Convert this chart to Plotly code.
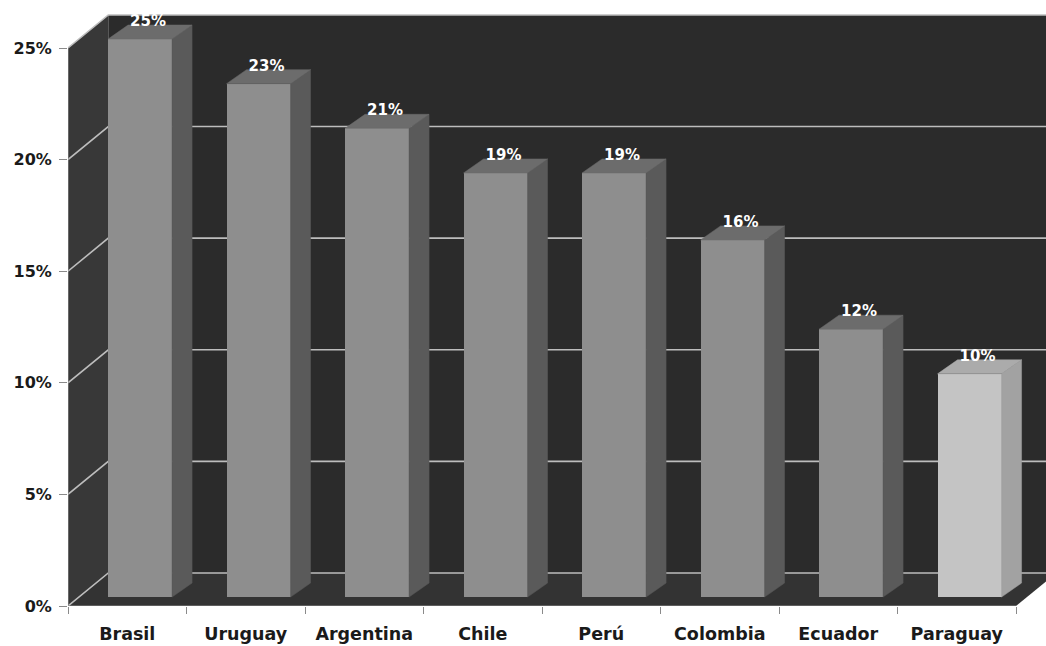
import plotly.graph_objects as go

countries = ["Brasil", "Uruguay", "Argentina", "Chile", "Perú", "Colombia", "Ecuador", "Paraguay"]
values = [25, 23, 21, 19, 19, 16, 12, 10]
y_ticks = [0, 5, 10, 15, 20, 25]
y_tick_text = ["0%", "5%", "10%", "15%", "20%", "25%"]

# --- 3D styling parameters (positions in axis units) ---
WALL_DX, WALL_DY = 0.34, 1.48       # depth of the chart walls
BAR_BASE = 0.4                      # front face of bars sits slightly behind front edge
BAR_OFF, BAR_W = -0.162, 0.54       # bar front face placement within a band
BAR_DX, BAR_DY = 0.169, 0.63        # bar depth
n = len(countries)
x_idx = list(range(n))
x_min, x_max = -0.5, n - 0.5
x_end = x_min + 978 / 118.5
y_top = max(y_ticks)

front_cols = ["#8e8e8e"] * (n - 1) + ["#c4c4c4"]
side_cols = ["#5a5a5a"] * (n - 1) + ["#a2a2a2"]
top_cols = ["#6c6c6c"] * (n - 1) + ["#ababab"]
wall_back = "#2b2b2b"
wall_left = "#383838"
floor_col = "#333333"
grid_col = "#bdbdbd"
FONT = "DejaVu Sans"

fig = go.Figure()
shapes = []

def path(xs, ys):
    return "M " + " L ".join(f"{x},{y}" for x, y in zip(xs, ys)) + " Z"

# back wall, left wall, floor (drawn below the bars)
shapes.append(dict(type="path", xref="x", yref="y", layer="below", line=dict(width=0),
                   fillcolor=wall_back,
                   path=path([x_min + WALL_DX, x_end, x_end, x_min + WALL_DX],
                             [WALL_DY, WALL_DY, y_top + WALL_DY, y_top + WALL_DY])))
shapes.append(dict(type="path", xref="x", yref="y", layer="below", line=dict(width=0),
                   fillcolor=wall_left,
                   path=path([x_min, x_min + WALL_DX, x_min + WALL_DX, x_min],
                             [0, WALL_DY, y_top + WALL_DY, y_top])))
shapes.append(dict(type="path", xref="x", yref="y", layer="below", line=dict(width=0),
                   fillcolor=floor_col,
                   path=path([x_min, x_max, x_end, x_end, x_min + WALL_DX],
                             [0, 0, WALL_DY * (x_end - x_max) / WALL_DX, WALL_DY, WALL_DY])))
# gridlines
for t in y_ticks:
    shapes.append(dict(type="path", xref="x", yref="y", layer="below",
                       line=dict(color=grid_col, width=1.6),
                       path=f"M {x_min},{t} L {x_min + WALL_DX},{t + WALL_DY} L {x_end},{t + WALL_DY}"))

# bar front faces
fig.add_trace(go.Bar(x=x_idx, y=values, base=BAR_BASE, offset=BAR_OFF, width=BAR_W,
                     marker=dict(color=front_cols, line=dict(width=0)),
                     hoverinfo="skip", showlegend=False))

def poly(xs, ys, color):
    fig.add_trace(go.Scatter(x=xs, y=ys, mode="lines", fill="toself", fillcolor=color,
                             line=dict(width=0.5, color=color),
                             hoverinfo="skip", showlegend=False))

# bar side and top faces
for i, v in enumerate(values):
    xl = i + BAR_OFF
    xr = xl + BAR_W
    yt = v + BAR_BASE
    poly([xr, xr + BAR_DX, xr + BAR_DX, xr, xr],
         [BAR_BASE, BAR_BASE + BAR_DY, yt + BAR_DY, yt, BAR_BASE], side_cols[i])
    poly([xl, xr, xr + BAR_DX, xl + BAR_DX, xl],
         [yt, yt, yt + BAR_DY, yt + BAR_DY, yt], top_cols[i])

# value labels
fig.add_trace(go.Scatter(x=[i + 0.175 for i in x_idx], y=[v + 1.15 for v in values],
                         mode="text", text=[f"{v}%" for v in values],
                         textfont=dict(color="white", size=15, family=FONT, weight="bold"),
                         cliponaxis=False, hoverinfo="skip", showlegend=False))

# front axis lines
fig.add_trace(go.Scatter(x=[x_min, x_max, None, x_min, x_min], y=[0, 0, None, 0, y_top],
                         mode="lines", line=dict(color="#8a8a8a", width=1.2),
                         cliponaxis=False, hoverinfo="skip", showlegend=False))

fig.update_layout(
    width=1046, height=646,
    margin=dict(l=68, r=0, t=14, b=40),
    paper_bgcolor="white", plot_bgcolor="white",
    shapes=shapes,
    bargap=0,
    font=dict(family=FONT, color="#1a1a1a"),
    xaxis=dict(range=[x_min, x_end], showgrid=False, zeroline=False, showline=False,
               tickmode="array", tickvals=x_idx, ticktext=countries, ticks="",
               tickfont=dict(size=17.5, family=FONT, weight="bold", color="#1a1a1a"),
               minor=dict(ticks="outside", tick0=-0.5, dtick=1, ticklen=7, tickcolor="#8a8a8a",
                          showgrid=False),
               ticklabelstandoff=15),
    yaxis=dict(range=[0, 592 / 22.32], showgrid=False, zeroline=False, showline=False,
               tickmode="array", tickvals=y_ticks, ticktext=y_tick_text,
               ticks="outside", ticklen=8, tickcolor="#8a8a8a", ticklabelstandoff=4,
               tickfont=dict(size=16, family=FONT, weight="bold", color="#1a1a1a")),
)

fig.write_html("out.html", config={"displayModeBar": False},
               post_script="document.body.style.margin='0';document.body.style.overflow='hidden';")
